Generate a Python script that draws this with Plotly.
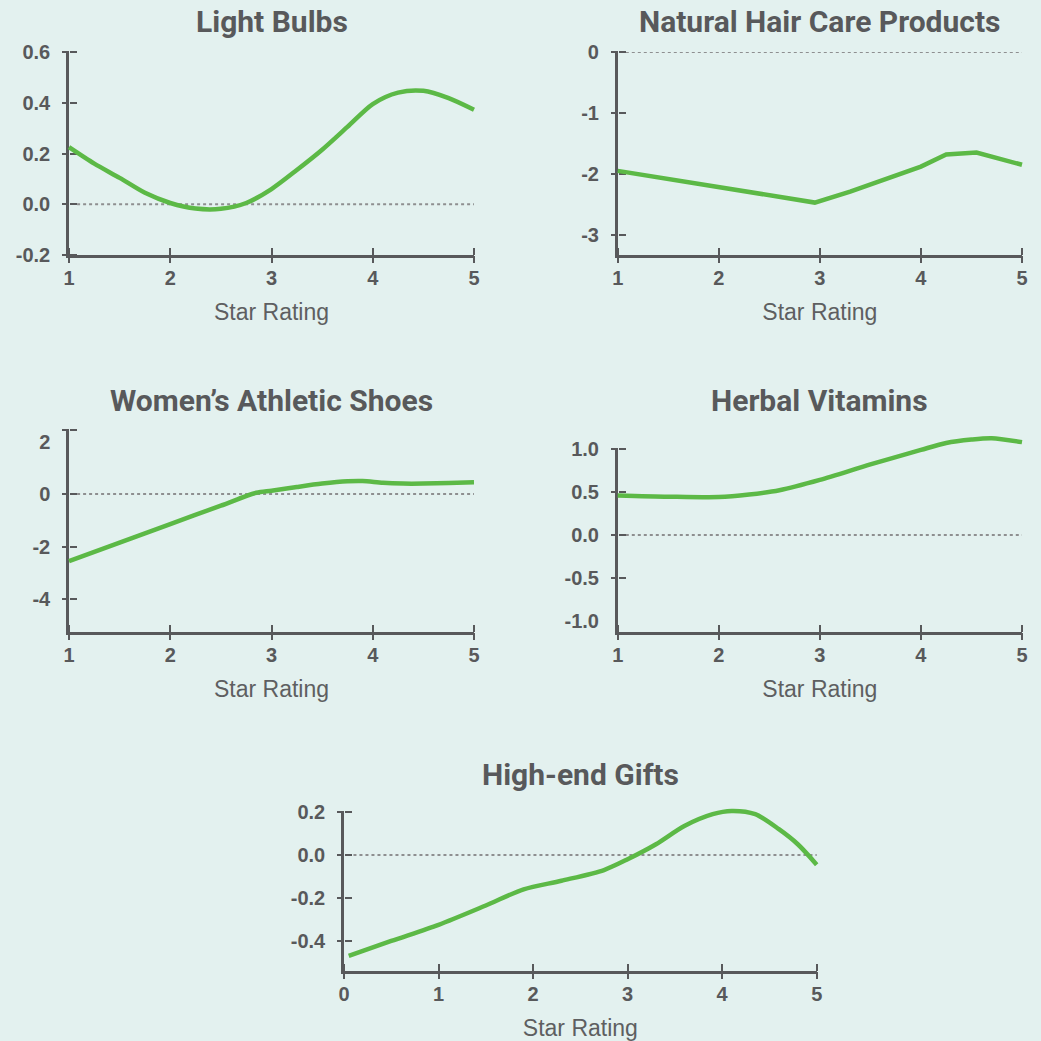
import plotly.graph_objects as go

# ---------------- data ----------------
titles = ["Light Bulbs", "Natural Hair Care Products", "Women\u2019s Athletic Shoes",
          "Herbal Vitamins", "High-end Gifts"]
x_axis_title = "Star Rating"

# Light Bulbs
lb_x = [1, 1.25, 1.5, 1.75, 2, 2.25, 2.5, 2.75, 3, 3.25, 3.5, 3.75, 4, 4.25, 4.5, 4.75, 5]
lb_y = [0.225, 0.16, 0.104, 0.045, 0.005, -0.017, -0.018, 0.005, 0.06, 0.135, 0.215,
        0.305, 0.395, 0.44, 0.447, 0.418, 0.372]
# Natural Hair Care Products
nh_x = [1, 2, 2.95, 3.3, 3.65, 4.0, 4.25, 4.55, 5]
nh_y = [-1.95, -2.21, -2.47, -2.29, -2.09, -1.88, -1.68, -1.65, -1.85]
# Women's Athletic Shoes
ws_x = [1, 1.5, 2, 2.5, 2.85, 3.0, 3.25, 3.5, 3.75, 3.9, 4.1, 4.3, 4.5, 4.75, 5]
ws_y = [-2.55, -1.85, -1.14, -0.44, 0.05, 0.13, 0.27, 0.4, 0.49, 0.5, 0.43, 0.4, 0.4, 0.42, 0.45]
# Herbal Vitamins
hv_x = [1, 1.5, 2, 2.3, 2.6, 3.0, 3.5, 4.0, 4.25, 4.5, 4.7, 5]
hv_y = [0.46, 0.445, 0.44, 0.47, 0.52, 0.64, 0.82, 0.99, 1.07, 1.11, 1.125, 1.08]
# High-end Gifts
hg_x = [0.05, 0.5, 1.0, 1.5, 1.9, 2.3, 2.75, 3.0, 3.3, 3.6, 3.9, 4.1, 4.35, 4.6, 4.8, 5.0]
hg_y = [-0.47, -0.40, -0.325, -0.235, -0.16, -0.12, -0.07, -0.02, 0.05, 0.135, 0.19,
        0.205, 0.19, 0.12, 0.05, -0.045]

# axis ranges
lb_xr, lb_yr = [1, 5], [-0.2, 0.6]
nh_xr, nh_yr = [1, 5], [-3.33, 0]
ws_xr, ws_yr = [1, 5], [-5.25, 2.44]
hv_xr, hv_yr = [1, 5], [-1.13, 1.0]
hg_xr, hg_yr = [0, 5], [-0.54, 0.2]

# tick labels
x_ticks_1to5 = [1, 2, 3, 4, 5]
x_ticks_0to5 = [0, 1, 2, 3, 4, 5]
lb_yticks = [-0.2, 0.0, 0.2, 0.4, 0.6]
lb_ytext = ["-0.2", "0.0", "0.2", "0.4", "0.6"]
nh_yticks = [-3, -2, -1, 0]
nh_ytext = ["-3", "-2", "-1", "0"]
ws_yticks = [-4, -2, 0, 2]
ws_ytext = ["-4", "-2", "0", "2"]
hv_yticks = [-1.0, -0.5, 0.0, 0.5, 1.0]
hv_ytext = ["-1.0", "-0.5", "0.0", "0.5", "1.0"]
hg_yticks = [-0.4, -0.2, 0.0, 0.2]
hg_ytext = ["-0.4", "-0.2", "0.0", "0.2"]

# tick marks on the y axes (where they differ from the labels)
lb_ymarks = lb_yticks
nh_ymarks = nh_yticks
ws_ymarks = [-4, -2, 0, ws_yr[1]]
hv_ymarks = [-0.5, 0.0, 0.5, 1.0]
hg_ymarks = hg_yticks

panels = [
    dict(x=lb_x, y=lb_y, xt=x_ticks_1to5, yt=lb_yticks, ytt=lb_ytext, ym=lb_ymarks, xr=lb_xr, yr=lb_yr, shape="spline"),
    dict(x=nh_x, y=nh_y, xt=x_ticks_1to5, yt=nh_yticks, ytt=nh_ytext, ym=nh_ymarks, xr=nh_xr, yr=nh_yr, shape="linear"),
    dict(x=ws_x, y=ws_y, xt=x_ticks_1to5, yt=ws_yticks, ytt=ws_ytext, ym=ws_ymarks, xr=ws_xr, yr=ws_yr, shape="spline"),
    dict(x=hv_x, y=hv_y, xt=x_ticks_1to5, yt=hv_yticks, ytt=hv_ytext, ym=hv_ymarks, xr=hv_xr, yr=hv_yr, shape="spline"),
    dict(x=hg_x, y=hg_y, xt=x_ticks_0to5, yt=hg_yticks, ytt=hg_ytext, ym=hg_ymarks, xr=hg_xr, yr=hg_yr, shape="spline"),
]

# ---------------- layout geometry (pixels) ----------------
W = H = 1041
boxes = [  # left, right, top, bottom of each plot area
    (69, 474, 52, 255),
    (617.7, 1022, 52, 255),
    (69, 474, 430, 632),
    (617.7, 1022, 449, 632),
    (344, 816.7, 812, 971),
]
title_y = [22, 22, 401, 401, 774]

BG = "#e3f1ef"
AX = "#58595b"
TXT = "#58595b"
GREEN = "#5cb946"
TITLE_FONT = "Roboto, Liberation Sans, sans-serif"
TICK_FONT = "Liberation Sans, Arial, sans-serif"
EXT = 4  # px by which the tick-only axes extend past the plot area (keeps end ticks)


def key(letter, n):
    return f"{letter}axis" if n == 1 else f"{letter}axis{n}"


def ref(letter, n):
    return letter if n == 1 else f"{letter}{n}"


def stretched(dom, rng, length_px, ext_px, total_px):
    """same scale as (dom, rng), but ext_px longer at both ends"""
    per_px = (rng[1] - rng[0]) / length_px
    return ([dom[0] - ext_px / total_px, dom[1] + ext_px / total_px],
            [rng[0] - ext_px * per_px, rng[1] + ext_px * per_px])


fig = go.Figure()
layout = dict(width=W, height=H, margin=dict(l=0, r=0, t=0, b=0, autoexpand=False),
              paper_bgcolor=BG, plot_bgcolor="rgba(0,0,0,0)", showlegend=False)
annotations, shapes = [], []

for i, p in enumerate(panels):
    xa, xo, xi, xdat = 1 + i, 6 + i, 11 + i, 16 + i
    ya, yi, yo, ydat = 1 + i, 6 + i, 11 + i, 16 + i
    L, R, T, B = boxes[i]
    xd = [L / W, R / W]
    yd = [1 - B / H, 1 - T / H]
    common = dict(showgrid=False, zeroline=False, tickcolor=AX, tickwidth=2, ticklen=7,
                  tickmode="array", fixedrange=True, automargin=False)
    tickfont = dict(family=TICK_FONT, size=20, color=TXT, weight="bold")

    # main axes: line + labels
    layout[key("x", xa)] = dict(domain=xd, range=p["xr"], anchor=ref("y", ya), showline=True,
                                linecolor=AX, linewidth=2.5, ticks="",
                                tickvals=p["xt"], ticktext=[str(v) for v in p["xt"]],
                                tickfont=tickfont, ticklabelstandoff=3,
                                title=dict(text=x_axis_title, standoff=17,
                                           font=dict(family=TICK_FONT, size=23, color="#5e5f61")),
                                **common)
    layout[key("y", ya)] = dict(domain=yd, range=p["yr"], anchor=ref("x", xa), showline=True,
                                linecolor=AX, linewidth=2.5, ticks="",
                                tickvals=p["yt"], ticktext=p["ytt"], tickfont=tickfont,
                                ticklabelstandoff=12, **common)

    # tick-only axes (crossing ticks), same scale, slightly longer so end ticks survive
    xdom_s, xr_s = stretched(xd, p["xr"], R - L, EXT, W)
    ydom_s, yr_s = stretched(yd, p["yr"], B - T, EXT, H)
    for n, direction in ((xo, "outside"), (xi, "inside")):
        layout[key("x", n)] = dict(domain=xdom_s, range=xr_s, anchor="free", position=yd[0],
                                   side="bottom", ticks=direction, tickvals=p["xt"],
                                   showticklabels=False, showline=False, **common)
        fig.add_trace(go.Scatter(x=[], y=[], xaxis=ref("x", n), yaxis=ref("y", ya)))
    for n, direction in ((yo, "outside"), (yi, "inside")):
        layout[key("y", n)] = dict(domain=ydom_s, range=yr_s, anchor="free", position=xd[0],
                                   side="left", ticks=direction, tickvals=p["ym"],
                                   showticklabels=False, showline=False, **common)
        fig.add_trace(go.Scatter(x=[], y=[], xaxis=ref("x", xa), yaxis=ref("y", n)))
    fig.add_trace(go.Scatter(x=[], y=[], xaxis=ref("x", xa), yaxis=ref("y", ya)))

    # data axes: same scale, larger area so the line is not clipped
    ddom_x, dr_x = stretched(xd, p["xr"], R - L, 16, W)
    ddom_y, dr_y = stretched(yd, p["yr"], B - T, 24, H)
    layout[key("x", xdat)] = dict(domain=ddom_x, range=dr_x, anchor=ref("y", ydat),
                                  visible=False, fixedrange=True, automargin=False)
    layout[key("y", ydat)] = dict(domain=ddom_y, range=dr_y, anchor=ref("x", xdat),
                                  visible=False, fixedrange=True, automargin=False)
    fig.add_trace(go.Scatter(x=p["x"], y=p["y"], xaxis=ref("x", xdat), yaxis=ref("y", ydat),
                             mode="lines", hoverinfo="skip",
                             line=dict(color=GREEN, width=4.5, shape=p["shape"], smoothing=0.8)))

    shapes.append(dict(type="line", xref=f"{ref('x', xa)} domain", yref=ref("y", ya),
                       x0=0.02, x1=1.0, y0=0, y1=0, layer="below",
                       line=dict(color="#8e8f90", width=2, dash="dot")))
    annotations.append(dict(text=titles[i], xref="paper", yref="paper",
                            x=(L + R) / 2 / W, y=1 - title_y[i] / H, xanchor="center",
                            yanchor="middle", showarrow=False,
                            font=dict(family=TITLE_FONT, size=30, color=TXT, weight="bold")))

layout["annotations"] = annotations
layout["shapes"] = shapes
fig.update_layout(**layout)
fig.write_html("out.html", config={"displayModeBar": False},
               post_script="document.body.style.margin='0';document.body.style.overflow='hidden';")
